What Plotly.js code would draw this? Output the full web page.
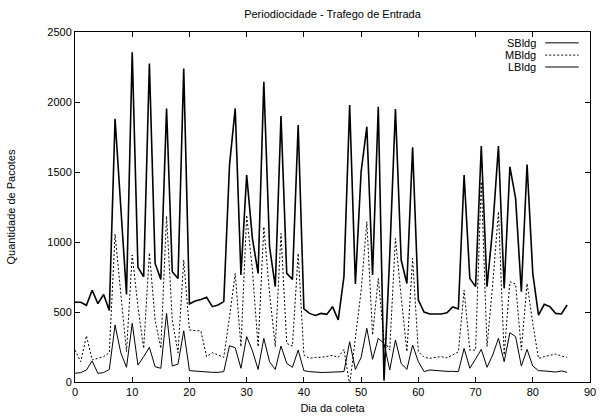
<!DOCTYPE html>
<html>
<head>
<meta charset="utf-8">
<script src="https://cdn.plot.ly/plotly-3.0.1.min.js"></script>
<style>html,body{margin:0;padding:0;background:#fff;}#chart{width:605px;height:420px;}</style>
</head>
<body>
<div id="chart"></div>
<script>
var days = [];
for (var d = 0; d <= 86; d++) days.push(d);

var seriesNames = ["SBldg", "MBldg", "LBldg"];

var sBldg = [62,67,86,150,62,67,90,407,209,105,419,121,181,248,109,98,490,114,128,366,81,
  77,74,71,69,69,74,259,245,98,324,224,90,312,145,90,257,133,105,228,81,74,
  70,68,69,69,69,74,288,90,176,383,162,312,276,86,300,133,90,264,145,74,86,
  82,79,76,76,74,240,98,164,233,105,193,312,145,352,324,114,233,114,81,79,76,71,79,69];

var mBldg = [228,145,330,157,169,181,210,1057,633,217,907,538,240,923,443,240,1185,443,209,871,371,
  366,364,181,209,193,176,466,776,252,1192,800,252,1109,633,252,1061,276,257,919,193,169,
  176,176,181,190,176,233,-20,300,650,1145,336,740,300,228,1026,609,217,883,217,176,169,
  176,181,172,193,215,657,228,228,1430,252,700,1216,193,716,700,228,704,420,169,181,193,200,186,176];

var lBldg = [570,570,548,655,560,625,510,1880,1250,626,2355,819,752,2275,847,733,1954,788,740,2240,557,
  578,590,605,538,550,574,1549,1954,764,1478,1026,776,2144,966,681,1899,776,733,1835,522,490,
  475,490,483,538,443,752,1978,700,1502,1823,764,1966,10,900,1950,871,704,1676,585,500,486,
  486,486,495,536,522,1478,740,681,1685,681,1100,1685,669,1537,1311,645,1554,776,478,555,538,490,486,550];

var xTicks = [0,10,20,30,40,50,60,70,80,90];
var yTicks = [0,500,1000,1500,2000,2500];

var styles = [
  {color:"#000", width:1, dash:"solid"},
  {color:"#000", width:1, dash:"2px,2px"},
  {color:"#000", width:1.6, dash:"solid"}
];
var values = [sBldg, mBldg, lBldg];

var traces = values.map(function(v, k){
  return {x: days, y: v, type: "scatter", mode: "lines", name: seriesNames[k],
          line: styles[k], showlegend: false, hoverinfo: "x+y"};
});

var font = {family: "Liberation Sans, Arial, sans-serif", size: 11, color: "#000"};

var annotations = [];
var shapes = [];
var legendY = [0.969, 0.934, 0.900];
seriesNames.forEach(function(n, k){
  annotations.push({xref:"paper", yref:"paper", x:0.897, y:legendY[k], text:n,
    showarrow:false, xanchor:"right", yanchor:"middle", font:font, borderpad:0});
  shapes.push({type:"line", xref:"paper", yref:"paper", x0:0.913, x1:0.978,
    y0:legendY[k], y1:legendY[k], line:{color:"#000", width:1, dash:styles[k].dash}});
});

var axisCommon = {
  showgrid:false, zeroline:false, showline:true, linecolor:"#000", linewidth:1,
  mirror:"ticks", ticks:"inside", ticklen:5, tickcolor:"#000", tickwidth:1,
  tickfont:font
};

var layout = {
  width:605, height:420,
  margin:{l:75, r:15, t:32, b:38},
  paper_bgcolor:"#fff", plot_bgcolor:"#fff",
  font:font,
  title:{text:"Periodiocidade - Trafego de Entrada", font:font, xref:"paper", x:0.5, xanchor:"center", yref:"container", y:0.975, yanchor:"top"},
  xaxis:Object.assign({}, axisCommon, {range:[0,90], tickvals:xTicks, ticktext:xTicks.map(String),
    title:{text:"Dia da coleta", font:font, standoff:7}}),
  yaxis:Object.assign({}, axisCommon, {range:[0,2500], tickvals:yTicks, ticktext:yTicks.map(String),
    title:{text:"Quantidade de Pacotes", font:font, standoff:29}}),
  annotations:annotations,
  shapes:shapes,
  showlegend:false
};

Plotly.newPlot("chart", traces, layout, {staticPlot:true, displayModeBar:false});
</script>
</body>
</html>
